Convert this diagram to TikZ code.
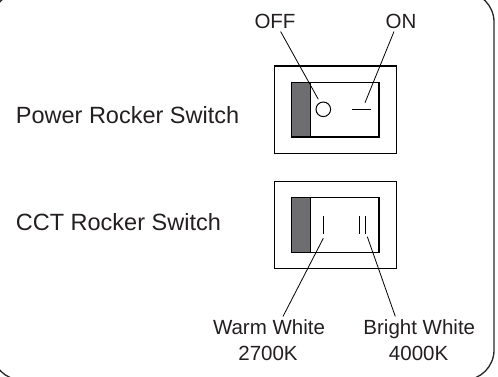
\documentclass[tikz,border=0pt]{standalone}
\usepackage{fontspec}
\setmainfont{Liberation Sans}
\definecolor{rockergray}{RGB}{110,110,113}
\definecolor{inkgray}{RGB}{35,31,32}
\begin{document}
\begin{tikzpicture}[x=0.5pt,y=-0.5pt,
    box/.style={draw=black, line width=0.65pt},
    symbolline/.style={draw=black, line width=0.5pt},
    leader/.style={draw=black, line width=0.4pt},
    side/.style={font=\fontsize{11.75}{13}\selectfont, text=inkgray, inner sep=0pt, anchor=base west},
    tag/.style={font=\fontsize{10.25}{12}\selectfont, text=inkgray, inner sep=0pt, outer sep=1.5pt, anchor=base}]
  \useasboundingbox (0,0) rectangle (498,376);
  \draw[line width=0.65pt, draw=black!85, rounded corners=15pt] (-8,-8) rectangle (494,380);
  % labels
  \node[side] (power) at (15.5,123) {Power Rocker Switch};
  \node[side] (cct) at (15.5,230) {CCT Rocker Switch};
  \node[tag] (off) at (275,28.3) {OFF};
  \node[tag] (on) at (401,28.3) {ON};
  \node[tag] (warm) at (269,334.3) {Warm White};
  \node[tag] (warmk) at (268,360) {2700K};
  \node[tag] (bright) at (419.3,334.3) {Bright White};
  \node[tag] (brightk) at (418.6,360) {4000K};
  % power switch
  \draw[box] (274.3,66) rectangle (396.7,153.3);
  \draw[box, fill=rockergray] (291.7,82.3) rectangle (310.7,137);
  \draw[box] (310.7,82.3) rectangle (379,137);
  \draw[symbolline] (323.3,109.3) circle [radius=7.3];
  \draw[symbolline] (352.3,109.3) -- (370.7,109.3);
  \coordinate (offmark) at (318.3,99.3);
  \coordinate (onmark) at (365,102.7);
  % cct switch
  \draw[box] (274.3,181.7) rectangle (396.7,268.3);
  \draw[box, fill=rockergray] (291.7,197.7) rectangle (310.7,252.3);
  \draw[box] (310.7,197.7) rectangle (379,252.3);
  \draw[symbolline] (323.3,216) -- (323.3,234);
  \draw[symbolline] (359,216) -- (359,234);
  \draw[symbolline] (365.3,216) -- (365.3,234);
  \coordinate (warmmark) at (323.3,238.3);
  \coordinate (brightmark) at (367.3,236.7);
  % leaders
  \draw[leader] ([xshift=2.8pt]off.south) -- (offmark);
  \draw[leader] ([xshift=-3.5pt]on.south) -- (onmark);
  \draw[leader] ([xshift=7pt]warm.north) -- (warmmark);
  \draw[leader] ([xshift=-12pt]bright.north) -- (brightmark);
\end{tikzpicture}
\end{document}
